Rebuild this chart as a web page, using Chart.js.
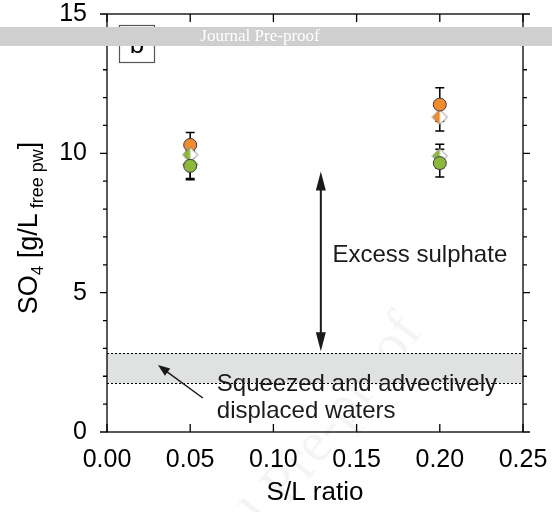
<!DOCTYPE html>
<html>
<head>
<meta charset="utf-8">
<script src="https://cdn.jsdelivr.net/npm/chart.js@4.4.1/dist/chart.umd.min.js"></script>
<style>
  html, body { margin: 0; padding: 0; background: #fff; }
  #wrap { width: 552px; height: 512px; }
</style>
</head>
<body>
<div id="wrap"><canvas id="so4Chart" width="552" height="512"></canvas></div>
<script>
// --- Datos ---
const slRatio = [0.05, 0.20];
const orangeCircle = [10.3, 11.75];
const orangeCircleErr = [0.45, 0.6];
const orangeDiamond = [9.6, 11.3];
const orangeDiamondErr = [0.5, 0.5];
const greenDiamond = [9.95, 9.9];
const greenDiamondErr = [0.4, 0.43];
const greenCircle = [9.55, 9.65];
const greenCircleErr = [0.5, 0.5];

const xTicks = [0, 0.05, 0.10, 0.15, 0.20, 0.25];
const yTicks = [0, 5, 10, 15];

// banda de aguas exprimidas y desplazadas
const bandLow = 1.75;
const bandHigh = 2.83;
// flecha "Excess sulphate"
const excessArrow = { x: 0.1285, yTop: 9.35, yBottom: 2.9 };

const ORANGE = '#f28a2e';
const GREEN = '#8cb83c';
const EDGE = '#3c3c3c';

function halfDiamond(color) {
    const r = 7.5;
    const c = document.createElement('canvas');
    c.width = c.height = 2 * r + 2;
    const g = c.getContext('2d');
    const m = r + 1;
    const path = () => {
        g.beginPath();
        g.moveTo(m, m - r); g.lineTo(m + r, m); g.lineTo(m, m + r); g.lineTo(m - r, m); g.closePath();
    };
    path();
    g.fillStyle = '#fff';
    g.fill();
    g.beginPath();
    g.moveTo(m, m - r); g.lineTo(m, m + r); g.lineTo(m - r, m); g.closePath();
    g.fillStyle = color;
    g.fill();
    path();
    g.strokeStyle = '#808080';
    g.lineWidth = 1;
    g.stroke();
    return c;
}

const toPts = (ys, errs) => slRatio.map((x, i) => ({ x: x, y: ys[i], err: errs[i] }));

// --- Plugins ---
const decorations = {
    id: 'decorations',
    beforeDatasetsDraw(chart) {
        const { ctx, chartArea: a, scales: { x, y } } = chart;
        ctx.save();
        // marca de agua
        ctx.translate(412, 322);
        ctx.rotate(-52 * Math.PI / 180);
        ctx.font = '58px "Liberation Serif"';
        ctx.fillStyle = 'rgba(0,0,0,0.045)';
        ctx.textAlign = 'right';
        ctx.textBaseline = 'middle';
        ctx.fillText('Journal Pre-proof', 0, 0);
        ctx.restore();

        ctx.save();
        const yb1 = y.getPixelForValue(bandHigh), yb2 = y.getPixelForValue(bandLow);
        ctx.fillStyle = '#e0e1e1';
        ctx.fillRect(a.left, yb1, a.right - a.left, yb2 - yb1);
        ctx.strokeStyle = '#000';
        ctx.lineWidth = 1;
        ctx.setLineDash([2, 2]);
        [yb1, yb2].forEach(p => {
            ctx.beginPath();
            ctx.moveTo(a.left, Math.round(p) + 0.5);
            ctx.lineTo(a.right, Math.round(p) + 0.5);
            ctx.stroke();
        });
        ctx.setLineDash([]);

        // barras de error
        ctx.strokeStyle = '#000';
        ctx.lineWidth = 1.5;
        chart.data.datasets.forEach(ds => {
            ds.data.forEach(p => {
                const px = x.getPixelForValue(p.x);
                const t = y.getPixelForValue(p.y + p.err);
                const b = y.getPixelForValue(p.y - p.err);
                ctx.beginPath();
                ctx.moveTo(px, t); ctx.lineTo(px, b);
                ctx.moveTo(px - 4.5, t); ctx.lineTo(px + 4.5, t);
                ctx.moveTo(px - 4.5, b); ctx.lineTo(px + 4.5, b);
                ctx.stroke();
            });
        });
        ctx.restore();
    },
    afterDraw(chart) {
        const { ctx, chartArea: a, scales: { x, y } } = chart;
        ctx.save();
        ctx.strokeStyle = '#000';
        ctx.lineWidth = 1.3;
        ctx.strokeRect(a.left, a.top, a.right - a.left, a.bottom - a.top);
        // marcas de los ejes
        ctx.beginPath();
        xTicks.forEach(v => {
            const px = x.getPixelForValue(v);
            ctx.moveTo(px, a.bottom); ctx.lineTo(px, a.bottom - 8);
            ctx.moveTo(px, a.top); ctx.lineTo(px, a.top + 8);
        });
        for (let v = 0; v <= 15; v++) {
            const py = y.getPixelForValue(v);
            const len = v % 5 === 0 ? 7 : 4;
            ctx.moveTo(a.left - len, py); ctx.lineTo(a.left, py);
            ctx.moveTo(a.right, py); ctx.lineTo(a.right + len, py);
        }
        ctx.stroke();

        // flecha doble
        const ax = x.getPixelForValue(excessArrow.x);
        const at = y.getPixelForValue(excessArrow.yTop);
        const ab = y.getPixelForValue(excessArrow.yBottom);
        ctx.fillStyle = '#1a1a1a';
        ctx.strokeStyle = '#1a1a1a';
        ctx.lineWidth = 2;
        ctx.beginPath();
        ctx.moveTo(ax, at + 10); ctx.lineTo(ax, ab - 10);
        ctx.stroke();
        ctx.beginPath();
        ctx.moveTo(ax, at); ctx.lineTo(ax - 5, at + 19); ctx.lineTo(ax + 5, at + 19); ctx.closePath();
        ctx.moveTo(ax, ab); ctx.lineTo(ax - 5, ab - 19); ctx.lineTo(ax + 5, ab - 19); ctx.closePath();
        ctx.fill();

        // flecha pequeña
        const tx = x.getPixelForValue(0.0576), ty = y.getPixelForValue(1.22);
        const hx = x.getPixelForValue(0.0306), hy = y.getPixelForValue(2.4);
        const ang = Math.atan2(hy - ty, hx - tx);
        ctx.lineWidth = 1.5;
        ctx.beginPath();
        ctx.moveTo(tx, ty); ctx.lineTo(hx - 8 * Math.cos(ang), hy - 8 * Math.sin(ang));
        ctx.stroke();
        ctx.beginPath();
        ctx.moveTo(hx, hy);
        ctx.lineTo(hx - 12 * Math.cos(ang) + 4.5 * Math.sin(ang), hy - 12 * Math.sin(ang) - 4.5 * Math.cos(ang));
        ctx.lineTo(hx - 12 * Math.cos(ang) - 4.5 * Math.sin(ang), hy - 12 * Math.sin(ang) + 4.5 * Math.cos(ang));
        ctx.closePath();
        ctx.fill();

        // textos
        ctx.fillStyle = '#1a1a1a';
        ctx.font = '24px "Liberation Sans"';
        ctx.textBaseline = 'middle';
        ctx.textAlign = 'left';
        ctx.fillText('Excess sulphate', x.getPixelForValue(0.1355), y.getPixelForValue(6.35));
        ctx.fillText('Squeezed and advectively', x.getPixelForValue(0.066), y.getPixelForValue(1.72));
        ctx.fillText('displaced waters', x.getPixelForValue(0.066), y.getPixelForValue(0.75));

        // título eje y
        const parts = [
            ['SO', 27, 0], ['4', 17, 6], [' [g/L', 27, 0], [' free pw', 18, 6], [']', 27, 0]
        ];
        let total = 0;
        parts.forEach(([txt, size]) => {
            ctx.font = size + 'px "Liberation Sans"';
            total += ctx.measureText(txt).width;
        });
        ctx.save();
        ctx.translate(28, 228 + total / 2);
        ctx.rotate(-Math.PI / 2);
        ctx.textBaseline = 'alphabetic';
        ctx.fillStyle = '#000';
        let cx = 0;
        parts.forEach(([txt, size, dy]) => {
            ctx.font = size + 'px "Liberation Sans"';
            ctx.fillText(txt, cx, 9 + dy);
            cx += ctx.measureText(txt).width;
        });
        ctx.restore();

        // recuadro "b"
        ctx.strokeStyle = '#555';
        ctx.lineWidth = 1.2;
        ctx.strokeRect(a.left + 12.5, a.top + 11.5, 35, 37);
        ctx.fillStyle = '#000';
        ctx.font = '26px "Liberation Sans"';
        ctx.textAlign = 'center';
        ctx.textBaseline = 'alphabetic';
        ctx.fillText('b', a.left + 30, a.top + 39);

        // franja "Journal Pre-proof"
        ctx.fillStyle = '#cfcfcf';
        ctx.fillRect(0, 27, 552, 19);
        ctx.fillStyle = '#fff';
        ctx.font = '17px "Liberation Serif"';
        ctx.textAlign = 'center';
        ctx.textBaseline = 'middle';
        ctx.fillText('Journal Pre-proof', 260, 37);
        ctx.restore();
    }
};

new Chart(document.getElementById('so4Chart'), {
    type: 'scatter',
    data: {
        datasets: [
            { label: 'green circle', data: toPts(greenCircle, greenCircleErr), pointStyle: 'circle', pointRadius: 6.5,
              backgroundColor: GREEN, borderColor: EDGE, borderWidth: 1 },
            { label: 'green diamond', data: toPts(greenDiamond, greenDiamondErr), pointStyle: halfDiamond(GREEN), pointRadius: 7.5 },
            { label: 'orange circle', data: toPts(orangeCircle, orangeCircleErr), pointStyle: 'circle', pointRadius: 6.5,
              backgroundColor: ORANGE, borderColor: EDGE, borderWidth: 1 },
            { label: 'orange diamond', data: toPts(orangeDiamond, orangeDiamondErr), pointStyle: halfDiamond(ORANGE), pointRadius: 7.5 }
        ]
    },
    options: {
        responsive: false,
        animation: false,
        devicePixelRatio: 1,
        layout: { padding: { top: 14, right: 29, left: 0, bottom: 0 } },
        plugins: { legend: { display: false }, tooltip: { enabled: false } },
        scales: {
            x: {
                type: 'linear', min: 0, max: 0.25,
                afterBuildTicks: s => { s.ticks = xTicks.map(v => ({ value: v })); },
                ticks: { callback: v => v.toFixed(2), font: { family: 'Liberation Sans', size: 25 }, color: '#000', padding: 5, maxRotation: 0, autoSkip: false },
                grid: { display: false },
                border: { display: false },
                title: { display: true, text: 'S/L ratio', font: { family: 'Liberation Sans', size: 26 }, color: '#000', padding: { top: 9 } },
                afterFit: s => { s.height = 80; s.paddingLeft = 0; s.paddingRight = 0; }
            },
            y: {
                type: 'linear', min: 0, max: 15,
                afterBuildTicks: s => { s.ticks = yTicks.map(v => ({ value: v })); },
                ticks: { font: { family: 'Liberation Sans', size: 25 }, color: '#000', padding: 12 },
                grid: { display: false },
                border: { display: false },
                afterFit: s => { s.width = 107; s.paddingTop = 0; s.paddingBottom = 0; }
            }
        }
    },
    plugins: [decorations]
});
</script>
</body>
</html>
